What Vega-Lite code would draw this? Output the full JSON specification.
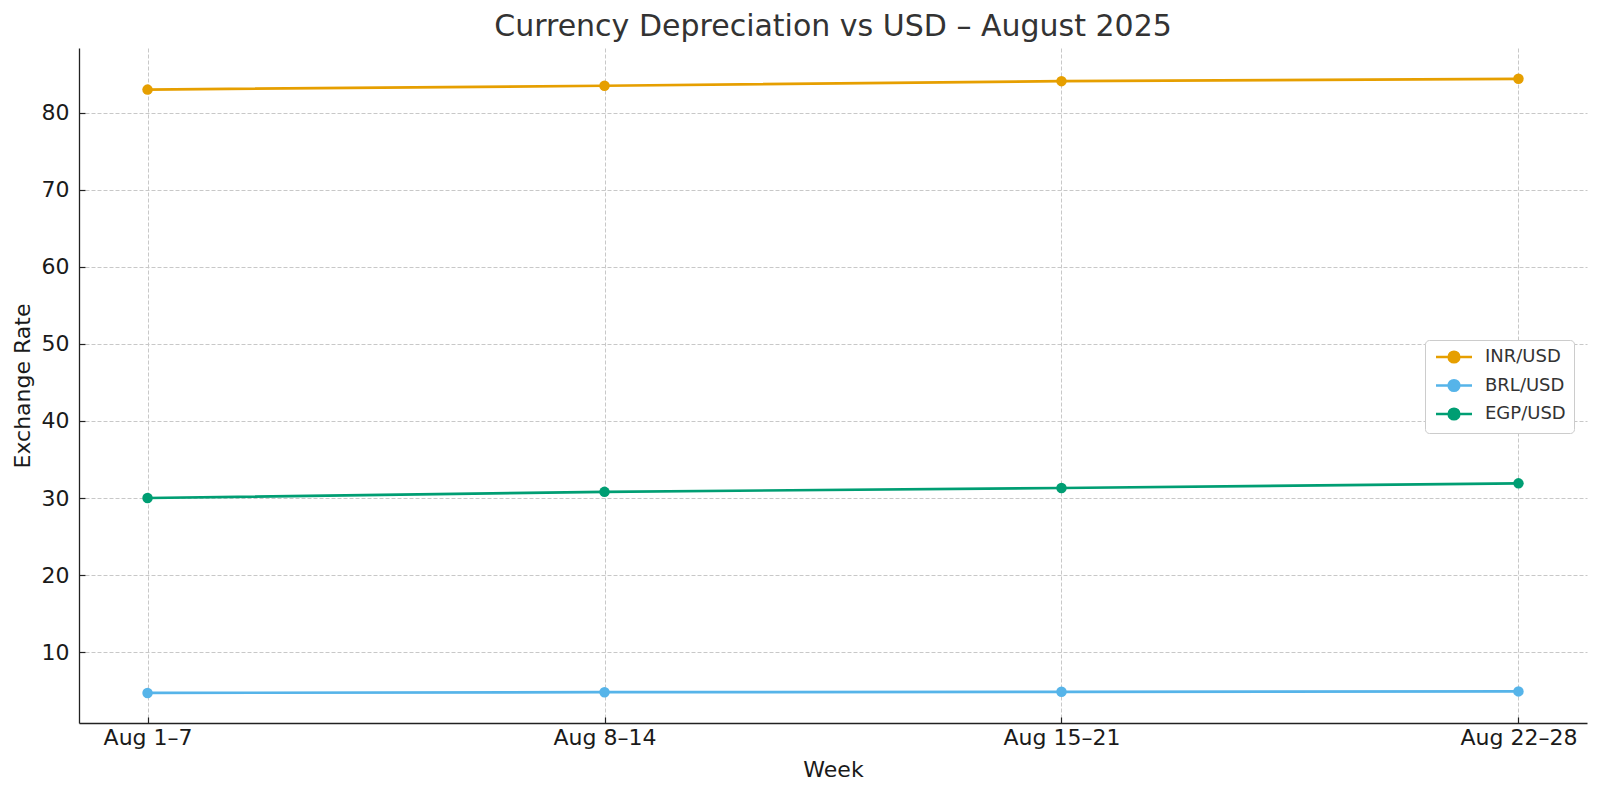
{
  "$schema": "https://vega.github.io/schema/vega-lite/v6.json",
  "width": 1508,
  "height": 675,
  "autosize": {"type": "none"},
  "padding": {"left": 79, "top": 48, "right": 13, "bottom": 72},
  "background": "white",
  "title": {
    "text": "Currency Depreciation vs USD – August 2025",
    "fontSize": 30,
    "font": "DejaVu Sans",
    "fontWeight": "normal",
    "color": "#333333",
    "anchor": "middle",
    "baseline": "alphabetic",
    "offset": 9,
    "dy": 27
  },
  "data": {
    "values": [
      {"week": "Aug 1–7", "pair": "INR/USD", "rate": 83.0},
      {"week": "Aug 8–14", "pair": "INR/USD", "rate": 83.5},
      {"week": "Aug 15–21", "pair": "INR/USD", "rate": 84.1},
      {"week": "Aug 22–28", "pair": "INR/USD", "rate": 84.4},
      {"week": "Aug 1–7", "pair": "BRL/USD", "rate": 4.7},
      {"week": "Aug 8–14", "pair": "BRL/USD", "rate": 4.8},
      {"week": "Aug 15–21", "pair": "BRL/USD", "rate": 4.85},
      {"week": "Aug 22–28", "pair": "BRL/USD", "rate": 4.9},
      {"week": "Aug 1–7", "pair": "EGP/USD", "rate": 30.0},
      {"week": "Aug 8–14", "pair": "EGP/USD", "rate": 30.8},
      {"week": "Aug 15–21", "pair": "EGP/USD", "rate": 31.3},
      {"week": "Aug 22–28", "pair": "EGP/USD", "rate": 31.9}
    ]
  },
  "encoding": {
    "x": {
      "field": "week",
      "type": "ordinal",
      "sort": null,
      "scale": {"type": "point", "padding": 0.15},
      "axis": {
        "title": "Week",
        "labelAngle": 0,
        "grid": true,
        "labelPadding": 10,
        "titlePadding": 11
      }
    },
    "y": {
      "field": "rate",
      "type": "quantitative",
      "scale": {"domain": [0.8, 88.4], "nice": false, "zero": false},
      "axis": {
        "title": "Exchange Rate",
        "values": [10, 20, 30, 40, 50, 60, 70, 80],
        "labelPadding": 16,
        "titlePadding": 7
      }
    },
    "color": {
      "field": "pair",
      "type": "nominal",
      "scale": {
        "domain": ["INR/USD", "BRL/USD", "EGP/USD"],
        "range": ["#E69F00", "#56B4E9", "#009E73"]
      },
      "legend": {
        "title": null,
        "orient": "none",
        "legendX": 1346,
        "legendY": 292
      }
    }
  },
  "layer": [
    {"mark": {"type": "line", "strokeWidth": 2.7}},
    {"mark": {"type": "point", "filled": true, "opacity": 1, "size": 110}}
  ],
  "config": {
    "font": "DejaVu Sans",
    "view": {"stroke": null},
    "axis": {
      "labelFont": "DejaVu Sans",
      "labelFontSize": 22,
      "labelColor": "#1a1a1a",
      "titleFont": "DejaVu Sans",
      "titleFontSize": 22,
      "titleFontWeight": "normal",
      "titleColor": "#1a1a1a",
      "domainColor": "#222222",
      "domainWidth": 1.3,
      "tickColor": "#222222",
      "tickSize": -6,
      "tickWidth": 1.2,
      "gridColor": "#c8c8c8",
      "gridDash": [4, 2],
      "gridWidth": 1
    },
    "legend": {
      "padding": 8,
      "strokeColor": "#cccccc",
      "fillColor": "white",
      "cornerRadius": 4,
      "labelFont": "DejaVu Sans",
      "labelFontSize": 18,
      "labelColor": "#333333",
      "symbolType": "M-1,0H5M2.9,0A0.9,0.9 0 1,1 1.1,0A0.9,0.9 0 1,1 2.9,0",
      "symbolSize": 144,
      "symbolStrokeWidth": 2.4,
      "labelOffset": 34,
      "rowPadding": 6.5
    }
  }
}
